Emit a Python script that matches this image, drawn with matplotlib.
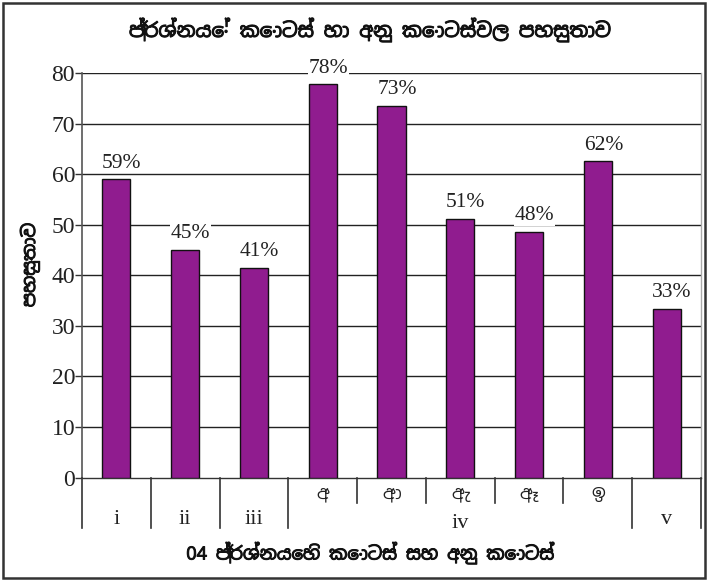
import matplotlib
matplotlib.use("Agg")
import matplotlib.pyplot as plt
from matplotlib import font_manager
from matplotlib.patches import Rectangle
from matplotlib.lines import Line2D
import matplotlib.patheffects as pe

# ---- data ----
categories = ["i", "ii", "iii", "අ", "ආ", "ඇ", "ඈ", "ඉ", "v"]
values = [59, 45, 41.5, 77.8, 73.5, 51.2, 48.6, 62.5, 33.4]
value_labels = ["59%", "45%", "41%", "78%", "73%", "51%", "48%", "62%", "33%"]
group_labels = ["i", "ii", "iii", "iv", "v"]
yticks = [0, 10, 20, 30, 40, 50, 60, 70, 80]
title = "ප්\u200dරශ්නයේ කොටස් හා අනු කොටස්වල පහසුතාව"
xlabel = "04 ප්\u200dරශ්නයෙහි කොටස් සහ අනු කොටස්"
ylabel = "පහසුතාව"

# find a font with Sinhala glyphs if any is installed
sin_family = None
for f in font_manager.fontManager.ttflist:
    if "sinhala" in f.name.lower() or "iskoola" in f.name.lower():
        sin_family = f.name
        break
sin_fonts = ([sin_family] if sin_family else []) + ["Noto Sans", "DejaVu Sans"]
serif = ["Liberation Serif", "DejaVu Serif"]

W, H = 708, 581
fig = plt.figure(figsize=(W / 100, H / 100), dpi=100)

def fx(px):
    return px / W

def fy(py):
    return 1 - py / H

left, right, top, bottom = 82, 701, 73, 477.5
ax = fig.add_axes([fx(left), fy(bottom), fx(right) - fx(left), fy(top) - fy(bottom)])

x = list(range(len(categories)))
ax.bar(x, values, width=0.41, color="#901C8F", edgecolor="#111111", linewidth=1.0, zorder=3)
ax.set_xlim(-0.5, len(categories) - 0.5)
ax.set_ylim(0, 80)

ax.set_yticks(yticks)
ax.set_yticklabels([str(t) for t in yticks], fontfamily=serif, fontsize=17, color="#222222")
ax.tick_params(axis="y", direction="out", length=5, width=1, pad=0, color="#333333")
ax.set_xticks([])

for t in yticks[1:]:
    ax.axhline(t, color="#222222", linewidth=1.0, zorder=1)

ax.spines["top"].set_visible(False)
ax.spines["left"].set_color("#555555")
ax.spines["left"].set_linewidth(1.2)
ax.spines["right"].set_color("#aaaaaa")
ax.spines["right"].set_linewidth(1.0)
ax.spines["bottom"].set_color("#333333")
ax.spines["bottom"].set_linewidth(1.0)

for xi, v, lab in zip(x, values, value_labels):
    ax.text(xi + 0.08, v + 1.3, lab, ha="center", va="bottom", fontsize=15.5,
            fontfamily=serif, color="#222222", zorder=4,
            bbox=dict(facecolor="white", edgecolor="none", pad=0.5))

# category axis separators
def xpix(d):
    return left + (d + 0.5) * (right - left) / len(categories)

major_bounds = [-0.5, 0.5, 1.5, 2.5, 7.5, 8.5]
minor_bounds = [3.5, 4.5, 5.5, 6.5]
for b in major_bounds:
    fig.add_artist(Line2D([fx(xpix(b))] * 2, [fy(bottom), fy(528)], color="#333333", linewidth=1.2))
for b in minor_bounds:
    fig.add_artist(Line2D([fx(xpix(b))] * 2, [fy(bottom), fy(503)], color="#333333", linewidth=1.2))

# category labels
main_idx = {"i": 0, "ii": 1, "iii": 2, "v": 8}
for lab in group_labels:
    if lab == "iv":
        fig.text(fx(xpix(5)), fy(524), lab, ha="center", va="center", fontsize=16,
                 fontfamily=serif, color="#222222")
    else:
        fig.text(fx(xpix(main_idx[lab])), fy(519), lab, ha="center", va="center", fontsize=16,
                 fontfamily=serif, color="#222222")
for i in range(3, 8):
    fig.text(fx(xpix(i)), fy(493), categories[i], ha="center", va="center", fontsize=13,
             fontfamily=sin_fonts, color="#222222")

bold_fx = [pe.withStroke(linewidth=0.7, foreground="#111111")]
fig.text(fx(370), fy(30), title, ha="center", va="center", fontsize=14.2,
         fontfamily=sin_fonts, fontweight="bold", color="#111111", path_effects=bold_fx)
fig.text(fx(370), fy(553), xlabel, ha="center", va="center", fontsize=13,
         fontfamily=sin_fonts, fontweight="bold", color="#111111", path_effects=bold_fx)
fig.text(fx(30), fy(265), ylabel, ha="center", va="center", rotation=90, fontsize=13,
         fontfamily=sin_fonts, fontweight="bold", color="#111111", path_effects=bold_fx)

# outer frame
fig.add_artist(Rectangle((fx(3), fy(578)), fx(705) - fx(3), fy(3) - fy(578),
                         fill=False, edgecolor="#333333", linewidth=1.8,
                         transform=fig.transFigure))

fig.savefig("out.png", dpi=100)
